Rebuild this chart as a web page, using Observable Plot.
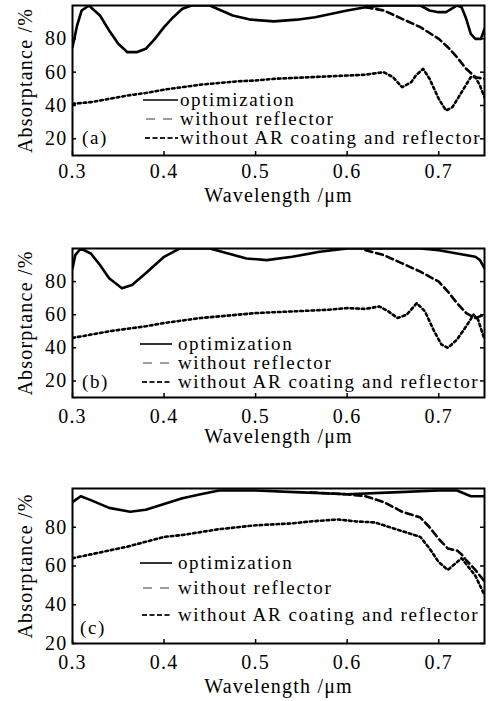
<!DOCTYPE html>
<html><head><meta charset="utf-8">
<script src="https://cdn.jsdelivr.net/npm/d3@7"></script>
<script src="https://cdn.jsdelivr.net/npm/@observablehq/plot@0.6"></script>
<style>
body{margin:0;background:#fff;}
#wrap{position:relative;width:495px;height:701px;font-family:"Liberation Serif",serif;color:#000;overflow:hidden;}
.panel{position:absolute;left:0;}
.leg{position:absolute;font-size:19px;line-height:16px;height:16px;white-space:nowrap;font-family:"Liberation Serif",serif;color:#000;letter-spacing:1.6px;}
.leg svg{position:absolute;top:0;}
.leg span{display:block;position:absolute;top:0;height:16px;line-height:16px;overflow:visible;}
</style></head><body><div id="wrap"></div>
<script>
const xTicks=[0.3,0.4,0.5,0.6,0.7];
const yTicks=[20,40,60,80];
const seriesNames=["optimization","without reflector","without AR coating and reflector"];
const panelLabels=["(a)","(b)","(c)"];

// (a)
const aOptX=[0.300,0.305,0.310,0.318,0.330,0.340,0.350,0.360,0.370,0.380,0.390,0.400,0.410,0.420,0.430,0.450,0.475,0.495,0.520,0.545,0.565,0.600,0.620,0.640,0.680,0.690,0.700,0.708,0.720,0.725,0.730,0.735,0.740,0.746,0.750];
const aOptY=[75,88,97,100,94,85,77,72,72,74,80,87,93,98,100,100,94,91.5,90.5,91.5,93,97,99,100,100,97,96,96,100,99,92,83,80,80,86];
const aNoRefX=[0.62,0.64,0.66,0.68,0.70,0.71,0.72,0.73,0.74,0.75];
const aNoRefY=[99,97,92,87,80,75,69,62,57,56];
const aNoARX=[0.30,0.32,0.34,0.36,0.38,0.40,0.42,0.44,0.46,0.48,0.50,0.52,0.54,0.56,0.58,0.60,0.62,0.64,0.65,0.66,0.67,0.675,0.683,0.69,0.70,0.708,0.715,0.725,0.735,0.74,0.745,0.75];
const aNoARY=[41,42,44,46,47.5,49.5,51,52.5,53.5,54.5,55,56,56.5,57,57.5,58,58.5,60,57,51,54,58,62,56,44,37,39,48,57,57,52,45];

// (b)
const bOptX=[0.300,0.303,0.309,0.320,0.330,0.340,0.354,0.365,0.380,0.390,0.400,0.417,0.450,0.470,0.490,0.512,0.540,0.570,0.600,0.640,0.680,0.700,0.720,0.740,0.745,0.750];
const bOptY=[88,96,100,97,90,82,76,78,85,90,95,100,100,97,94,93,95,98,100,100,100,99,97,95,93,88];
const bNoRefX=[0.62,0.64,0.66,0.68,0.70,0.71,0.72,0.73,0.74,0.745,0.75];
const bNoRefY=[99,96,91,86,80,74,67,61,58,59,60];
const bNoARX=[0.30,0.32,0.34,0.36,0.38,0.40,0.42,0.44,0.46,0.48,0.50,0.52,0.54,0.56,0.58,0.60,0.62,0.635,0.645,0.655,0.665,0.676,0.685,0.695,0.703,0.71,0.72,0.73,0.738,0.743,0.75];
const bNoARY=[46,48,50,51.5,53,55,56.5,58,59,60,61,61.5,62,62.5,63,64,63.5,65,62,58,60,67,62,50,42,40,45,53,60,57,45];

// (c)
const cOptX=[0.300,0.309,0.320,0.340,0.363,0.380,0.400,0.420,0.440,0.460,0.500,0.550,0.600,0.650,0.700,0.720,0.735,0.750];
const cOptY=[93,96,94,90,88,89,92,95,97,99,99,98,97,98,99,99,96,96];
const cNoRefX=[0.56,0.60,0.62,0.64,0.66,0.68,0.69,0.70,0.71,0.72,0.725,0.73,0.74,0.75];
const cNoRefY=[98,97,96,93,88,85,80,74,69,68,66,63,58,52];
const cNoARX=[0.30,0.32,0.34,0.36,0.38,0.40,0.42,0.44,0.46,0.48,0.50,0.52,0.54,0.56,0.59,0.61,0.63,0.65,0.66,0.68,0.69,0.70,0.71,0.72,0.725,0.73,0.74,0.75];
const cNoARY=[64,66,68,70,72.5,75,76,77.5,79,80,81,81.5,82,83,84,83,82.5,79.5,78,75,69,62,58,62,64,61,55,45];

const zip=(xs,ys)=>xs.map((x,i)=>({x,y:ys[i]}));

const panels=[
  {top:0, height:210, mb:55, yDomain:[10,100], opt:zip(aOptX,aOptY), noRef:zip(aNoRefX,aNoRefY), noAR:zip(aNoARX,aNoARY),
   tickPad:8, labelOffset:46, legX:143, legLen:35, legTextX:180, legY:[100,119,138], tag:{x:82,y:138}},
  {top:243, height:204, mb:50, yDomain:[10,100], opt:zip(bOptX,bOptY), noRef:zip(bNoRefX,bNoRefY), noAR:zip(bNoARX,bNoARY),
   tickPad:11, labelOffset:45, legX:140, legLen:32, legTextX:178, legY:[344,363,382], tag:{x:82,y:382}},
  {top:483, height:218, mb:58, yDomain:[20,100], opt:zip(cOptX,cOptY), noRef:zip(cNoRefX,cNoRefY), noAR:zip(cNoARX,cNoARY),
   tickPad:11, labelOffset:49, legX:140, legLen:32, legTextX:178, legY:[563,588,615], tag:{x:80,y:628}}
];

const wrap=document.getElementById("wrap");
const W=495, ML=72, MR=11, MT=5;
const dashes=[null,"7,4","2.6,3"];

panels.forEach((p,i)=>{
  const innerW=W-ML-MR, innerH=p.height-MT-p.mb;
  const chart=Plot.plot({
    width:W, height:p.height, marginLeft:ML, marginRight:MR, marginTop:MT, marginBottom:p.mb,
    x:{domain:[0.3,0.75]}, y:{domain:p.yDomain},
    style:{fontFamily:"Liberation Serif, serif", fontSize:"20px", color:"#000", background:"transparent", overflow:"visible", letterSpacing:"1.2px"},
    marks:[
      Plot.axisX(xTicks,{tickSize:0, tickPadding:p.tickPad, tickFormat:d=>d.toFixed(1), fontSize:20,
        label:"Wavelength /μm", labelAnchor:"center", labelArrow:"none", labelOffset:p.labelOffset}),
      Plot.axisY(yTicks,{tickSize:0, tickPadding:5, fontSize:20,
        label:"Absorptance /%", labelAnchor:"center", labelArrow:"none", labelOffset:55}),
      Plot.tickX(xTicks,{x:d=>d, stroke:"#000", strokeWidth:1.5, insetTop:innerH-4}),
      Plot.tickY(yTicks,{y:d=>d, stroke:"#000", strokeWidth:1.5, insetRight:innerW-4}),
      Plot.tickY(yTicks,{y:d=>d, stroke:"#000", strokeWidth:1.5, insetLeft:innerW-4}),
      Plot.line(p.opt,{x:"x", y:"y", stroke:"#000", strokeWidth:2.6, clip:true}),
      Plot.line(p.noRef,{x:"x", y:"y", stroke:"#000", strokeWidth:2.6, strokeDasharray:dashes[1], clip:true}),
      Plot.line(p.noAR,{x:"x", y:"y", stroke:"#000", strokeWidth:2.6, strokeDasharray:dashes[2], clip:true}),
      Plot.frame({stroke:"#000", strokeWidth:2})
    ]
  });
  chart.classList.add("panel");
  chart.style.top=p.top+"px";
  wrap.appendChild(chart);

  seriesNames.forEach((name,j)=>{
    const d=document.createElement("div");
    d.className="leg";
    d.style.left=p.legX+"px";
    d.style.top=(p.legY[j]-8)+"px";
    const sw=[
      `<line x1="0" x2="${p.legLen}" y1="8" y2="8" stroke="#000" stroke-width="1.6"/>`,
      `<line x1="3" x2="${p.legLen}" y1="8" y2="8" stroke="#8a7878" stroke-width="1.3" stroke-dasharray="9,8"/>`,
      `<line x1="2" x2="${p.legLen}" y1="8" y2="8" stroke="#222" stroke-width="1.8" stroke-dasharray="5,2.5"/>`
    ][j];
    d.innerHTML=`<svg width="${p.legLen}" height="16" style="left:0">${sw}</svg><span style="left:${p.legTextX-p.legX}px">${name}</span>`;
    wrap.appendChild(d);
  });
  const t=document.createElement("div");
  t.className="leg";
  t.style.left=p.tag.x+"px";
  t.style.top=(p.tag.y-8)+"px";
  t.textContent=panelLabels[i];
  wrap.appendChild(t);
});
</script>
</body></html>
